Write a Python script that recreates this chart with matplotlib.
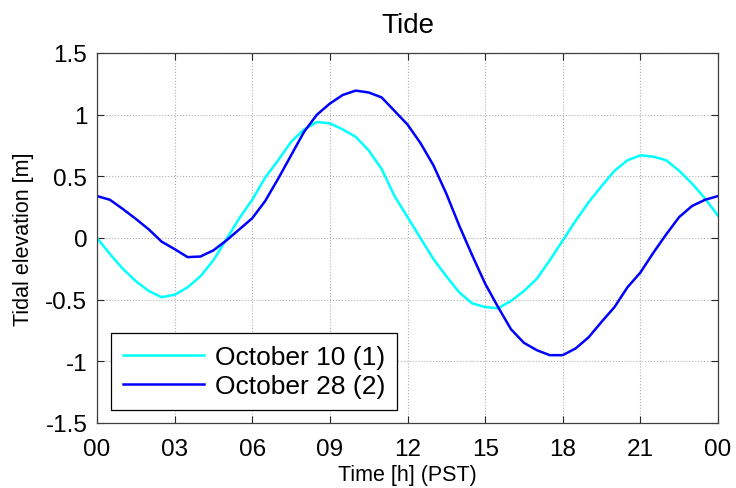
import numpy as np
import matplotlib
matplotlib.use("Agg")
import matplotlib.pyplot as plt

plt.rcParams['font.family'] = ['Liberation Sans', 'DejaVu Sans']
plt.rcParams['axes.unicode_minus'] = False

# Time in hours (PST)
hours = [0, 0.5, 1, 1.5, 2, 2.5, 3, 3.5, 4, 4.5, 5, 5.5, 6, 6.5, 7, 7.5, 8, 8.5,
         9, 9.5, 10, 10.5, 11, 11.5, 12, 12.5, 13, 13.5, 14, 14.5, 15, 15.5, 16,
         16.5, 17, 17.5, 18, 18.5, 19, 19.5, 20, 20.5, 21, 21.5, 22, 22.5, 23,
         23.5, 24]

oct10 = [0.00, -0.13, -0.25, -0.35, -0.43, -0.48, -0.46, -0.40, -0.31, -0.18,
         -0.01, 0.16, 0.31, 0.49, 0.63, 0.78, 0.88, 0.94, 0.93, 0.88, 0.82,
         0.71, 0.56, 0.34, 0.17, 0.00, -0.17, -0.31, -0.44, -0.53, -0.56,
         -0.57, -0.51, -0.43, -0.33, -0.18, -0.02, 0.14, 0.29, 0.42, 0.545,
         0.63, 0.67, 0.66, 0.63, 0.545, 0.44, 0.32, 0.18]

oct28 = [0.34, 0.31, 0.235, 0.155, 0.07, -0.03, -0.09, -0.155, -0.15, -0.10,
         -0.02, 0.07, 0.16, 0.30, 0.48, 0.67, 0.86, 1.00, 1.09, 1.16, 1.195,
         1.18, 1.14, 1.03, 0.92, 0.77, 0.59, 0.36, 0.10, -0.14, -0.37, -0.56,
         -0.74, -0.85, -0.91, -0.95, -0.95, -0.895, -0.805, -0.68, -0.56,
         -0.40, -0.28, -0.12, 0.03, 0.17, 0.26, 0.31, 0.34]

xticks = [0, 3, 6, 9, 12, 15, 18, 21, 24]
xticklabels = ['00', '03', '06', '09', '12', '15', '18', '21', '00']
yticks = [-1.5, -1, -0.5, 0, 0.5, 1, 1.5]
yticklabels = ['-1.5', '-1', '-0.5', '0', '0.5', '1', '1.5']
series_labels = ['October 10 (1)', 'October 28 (2)']

fig = plt.figure(figsize=(7.36, 4.89), dpi=100)
ax = fig.add_axes([97/736, 1 - 424/489, (718 - 97)/736, (424 - 54)/489])

ax.plot(hours, oct10, color='#00ffff', lw=1.8, label=series_labels[0])
ax.plot(hours, oct28, color='#0000ff', lw=1.8, label=series_labels[1])

ax.set_xlim(0, 24)
ax.set_ylim(-1.5, 1.5)
ax.set_xticks(xticks)
ax.set_xticklabels(xticklabels)
ax.set_yticks(yticks)
ax.set_yticklabels(yticklabels)
ax.tick_params(direction='in', length=5, width=0.8, top=True, right=True,
               labelsize=17.5, colors='#262626', labelcolor='black')
ax.tick_params(axis='x', pad=11)
ax.tick_params(axis='y', pad=7)
for s in ax.spines.values():
    s.set_color('#404040')
    s.set_linewidth(0.9)
ax.grid(True, linestyle=':', color='#b0b0b0', linewidth=0.8)

ax.set_title('Tide', fontsize=20, pad=15)
ax.set_xlabel('Time [h] (PST)', fontsize=15.5, labelpad=3)
ax.set_ylabel('Tidal elevation [m]', fontsize=15.5, labelpad=8)

leg = ax.legend(loc='lower left', bbox_to_anchor=(0.022, 0.035), borderaxespad=0,
                fontsize=19, fancybox=False, framealpha=1, edgecolor='black',
                handlelength=3.1, handletextpad=0.4, borderpad=0.45,
                labelspacing=0.2)
leg.get_frame().set_linewidth(0.9)

fig.savefig('out.png', dpi=100)
